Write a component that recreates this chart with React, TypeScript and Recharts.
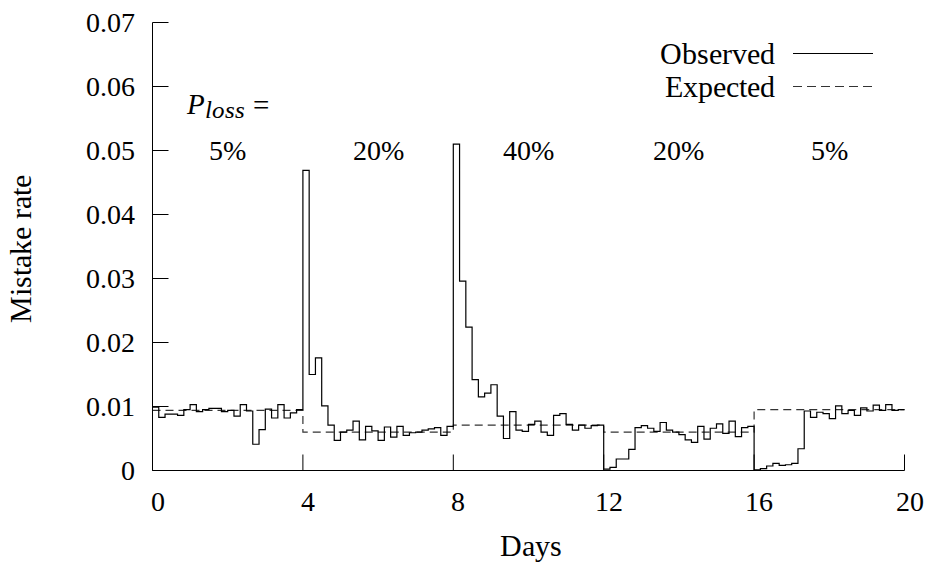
import React from 'react';
import { LineChart, Line, XAxis, YAxis, ReferenceDot, Legend } from 'recharts';

const FONT = "ChartSerif, 'Liberation Serif', 'DejaVu Serif', serif";
const FONT_CSS = `
@font-face { font-family: 'ChartSerif'; font-style: normal; src: local('Liberation Serif'), local('LiberationSerif'), local('LiberationSerif-Regular'), local('DejaVu Serif'); }
@font-face { font-family: 'ChartSerif'; font-style: italic; src: local('Liberation Serif Italic'), local('LiberationSerif-Italic'), local('DejaVu Serif Italic'); }
.chart-root, .chart-root text, .chart-root tspan, .chart-root div, .chart-root span { font-family: ${FONT} !important; }
`;
const TICK_LEN = 16;

// Observed mistake rate, one value per 4-hour bin (6 bins per day), days 0..20
const STEPS_PER_DAY = 6;
const observedRates = [
  // days 0-4
  0.0099, 0.0083, 0.0088, 0.0088, 0.0086, 0.0095, 0.0103, 0.0092, 0.0095, 0.0097, 0.0097, 0.0092,
  0.0094, 0.0085, 0.0103, 0.0093, 0.0041, 0.0064, 0.0096, 0.0082, 0.0103, 0.0082, 0.0090, 0.0095,
  // days 4-8
  0.0469, 0.0150, 0.0176, 0.0101, 0.0071, 0.0047, 0.0060, 0.0063, 0.0077, 0.0048, 0.0069, 0.0062,
  0.0047, 0.0068, 0.0052, 0.0069, 0.0055, 0.0059, 0.0060, 0.0063, 0.0065, 0.0067, 0.0055, 0.0069,
  // days 8-12
  0.0510, 0.0296, 0.0224, 0.0142, 0.0115, 0.0121, 0.0134, 0.0085, 0.0050, 0.0092, 0.0063, 0.0061,
  0.0072, 0.0077, 0.0060, 0.0055, 0.0086, 0.0089, 0.0072, 0.0063, 0.0071, 0.0066, 0.0070, 0.0071,
  // days 12-16
  0.0002, 0.0005, 0.0018, 0.0018, 0.0033, 0.0067, 0.0070, 0.0066, 0.0061, 0.0075, 0.0063, 0.0060,
  0.0056, 0.0048, 0.0044, 0.0069, 0.0049, 0.0066, 0.0073, 0.0058, 0.0077, 0.0053, 0.0067, 0.0069,
  // days 16-20
  0.0001, 0.0003, 0.0007, 0.0011, 0.0008, 0.0009, 0.0011, 0.0034, 0.0093, 0.0083, 0.0091, 0.0089,
  0.0081, 0.0101, 0.0089, 0.0094, 0.0086, 0.0098, 0.0093, 0.0102, 0.0094, 0.0103, 0.0094, 0.0095,
];

const expectedDays = [0, 4, 8, 12, 16, 20];
const expectedRates = [0.0094, 0.006, 0.0071, 0.006, 0.0095, 0.0095];

const xTicks = [0, 4, 8, 12, 16, 20];
const yTicks = [0, 0.01, 0.02, 0.03, 0.04, 0.05, 0.06, 0.07];
const yTickLabels = ['0', '0.01', '0.02', '0.03', '0.04', '0.05', '0.06', '0.07'];

const phaseDays = [2, 6, 10, 14, 18];
const phaseLabels = ['5%', '20%', '40%', '20%', '5%'];
const phaseLabelRate = 0.05;
const plossDay = 2;
const plossRate = 0.0557;

const seriesNames = ['Observed', 'Expected'];

const observedData = [
  ...observedRates.map((rate, i) => ({ day: i / STEPS_PER_DAY, rate })),
  { day: observedRates.length / STEPS_PER_DAY, rate: observedRates[observedRates.length - 1] },
];
const expectedData = expectedDays.map((day, i) => ({ day, rate: expectedRates[i] }));

const BottomTick = (props: any) => {
  const { x, y, payload } = props;
  return (
    <g>
      <line x1={x} y1={y} x2={x} y2={y - TICK_LEN} stroke="#000" strokeWidth={1} />
      <text x={x + 5} y={y + 40.5} textAnchor="middle" fontSize={28} fontFamily={FONT} fill="#000">
        {payload.value}
      </text>
    </g>
  );
};

const TopTick = (props: any) => {
  const { x, y } = props;
  return <line x1={x} y1={y} x2={x} y2={y + TICK_LEN} stroke="#000" strokeWidth={1} />;
};

const LeftTick = (props: any) => {
  const { x, y, payload } = props;
  const idx = yTicks.findIndex((t) => Math.abs(t - payload.value) < 1e-9);
  return (
    <g>
      <line x1={x} y1={y} x2={x + TICK_LEN} y2={y} stroke="#000" strokeWidth={1} />
      <text x={x - 17.5} y={y + 9.5} textAnchor="end" fontSize={28} fontFamily={FONT} fill="#000">
        {idx >= 0 ? yTickLabels[idx] : String(payload.value)}
      </text>
    </g>
  );
};

const RightTick = (props: any) => {
  const { x, y } = props;
  return <line x1={x} y1={y} x2={x - TICK_LEN} y2={y} stroke="#000" strokeWidth={1} />;
};

const YTitle = (props: any) => {
  const vb = props.viewBox || { x: 0, y: 0, width: 0, height: 0 };
  const cx = vb.x + 30.5;
  const cy = vb.y + vb.height / 2 + 2;
  return (
    <text
      x={cx}
      y={cy}
      transform={`rotate(-90 ${cx} ${cy})`}
      textAnchor="middle"
      fontSize={30}
      fontFamily={FONT}
      fill="#000"
    >
      Mistake rate
    </text>
  );
};

const XTitle = (props: any) => {
  const vb = props.viewBox || { x: 0, y: 0, width: 0, height: 0 };
  return (
    <text x={vb.x + vb.width / 2 + 2} y={vb.y + 85} textAnchor="middle" fontSize={30} fontFamily={FONT} fill="#000">
      Days
    </text>
  );
};

const makePhaseShape = (label: string) => (props: any) => {
  const { cx, cy } = props;
  return (
    <text x={cx} y={cy + 9} textAnchor="middle" fontSize={28} fontFamily={FONT} fill="#000">
      {label}
    </text>
  );
};

const PlossShape = (props: any) => {
  const { cx, cy } = props;
  return (
    <text x={cx} y={cy} textAnchor="middle" fontSize={29} fontFamily={FONT} fill="#000">
      <tspan fontStyle="italic">P</tspan>
      <tspan fontStyle="italic" fontSize={25} dy={4}>
        loss
      </tspan>
      <tspan dy={-4} dx={8}>
        =
      </tspan>
    </text>
  );
};

const LegendBox = () => (
  <div style={{ fontFamily: FONT, fontSize: 30, color: '#000' }}>
    {seriesNames.map((name, i) => (
      <div key={name} style={{ display: 'flex', alignItems: 'center', height: 33 }}>
        <span style={{ width: 135, textAlign: 'right', lineHeight: '33px', whiteSpace: 'nowrap' }}>{name}</span>
        <svg width={98} height={33} style={{ display: 'block' }}>
          <line
            x1={18}
            x2={98}
            y1={16.5}
            y2={16.5}
            stroke={i === 0 ? '#000' : '#333'}
            strokeWidth={1.2}
            strokeDasharray={i === 0 ? undefined : '9 5'}
          />
        </svg>
      </div>
    ))}
  </div>
);

export default function App() {
  return (
    <div
      className="chart-root"
      style={{ position: 'fixed', left: 0, top: 0, width: 926, height: 563, background: '#fff', fontFamily: FONT }}
    >
      <style>{FONT_CSS}</style>
      <LineChart
        width={926}
        height={563}
        margin={{ top: 22.5, right: 21.5, bottom: 0, left: 0 }}
        style={{ fontFamily: FONT }}
      >
        <XAxis
          dataKey="day"
          type="number"
          domain={[0, 20]}
          ticks={xTicks}
          height={92.5}
          tickSize={0}
          tickMargin={0}
          tickLine={false}
          axisLine={{ stroke: '#000', strokeWidth: 1 }}
          tick={<BottomTick />}
          label={<XTitle />}
        />
        <XAxis
          xAxisId="top"
          orientation="top"
          dataKey="day"
          type="number"
          domain={[0, 20]}
          ticks={xTicks}
          height={0}
          tickSize={0}
          tickMargin={0}
          tickLine={false}
          axisLine={{ stroke: '#000', strokeWidth: 1 }}
          tick={<TopTick />}
        />
        <YAxis
          type="number"
          domain={[0, 0.07]}
          ticks={yTicks}
          width={152.5}
          tickSize={0}
          tickMargin={0}
          tickLine={false}
          axisLine={{ stroke: '#000', strokeWidth: 1 }}
          tick={<LeftTick />}
          label={<YTitle />}
        />
        <YAxis
          yAxisId="right"
          orientation="right"
          type="number"
          domain={[0, 0.07]}
          ticks={yTicks}
          width={0}
          tickSize={0}
          tickMargin={0}
          tickLine={false}
          axisLine={{ stroke: '#000', strokeWidth: 1 }}
          tick={<RightTick />}
        />
        <Legend
          layout="horizontal"
          verticalAlign="middle"
          align="center"
          content={<LegendBox />}
          wrapperStyle={{ left: 640, top: 36.5, width: 240, height: 66 }}
        />
        <Line
          data={expectedData}
          dataKey="rate"
          name="Expected"
          type="stepAfter"
          stroke="#333"
          strokeWidth={1.2}
          strokeDasharray="8 5"
          dot={false}
          activeDot={false}
          isAnimationActive={false}
        />
        <Line
          data={observedData}
          dataKey="rate"
          name="Observed"
          type="stepAfter"
          stroke="#000"
          strokeWidth={1.2}
          dot={false}
          activeDot={false}
          isAnimationActive={false}
        />
        <ReferenceDot x={plossDay} y={plossRate} r={0} shape={PlossShape} />
        {phaseDays.map((d, i) => (
          <ReferenceDot key={`phase-${i}`} x={d} y={phaseLabelRate} r={0} shape={makePhaseShape(phaseLabels[i])} />
        ))}
      </LineChart>
    </div>
  );
}
